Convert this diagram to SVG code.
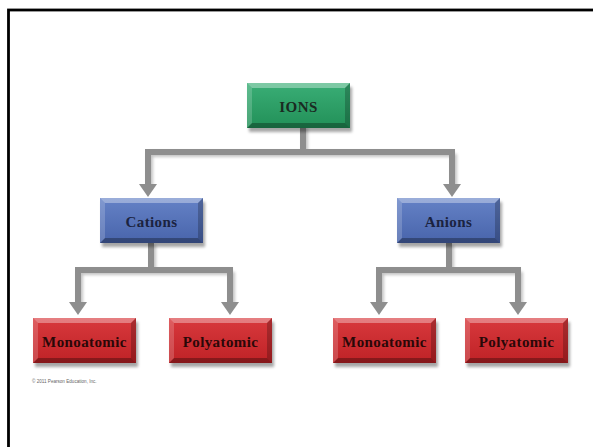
<svg xmlns="http://www.w3.org/2000/svg" xmlns:xlink="http://www.w3.org/1999/xlink" width="593" height="447" viewBox="0 0 593 447">
  <style>
    .lbl { font-family: "Liberation Serif", "DejaVu Serif", serif; font-weight: bold; font-size: 15px; letter-spacing: 0.4px; text-anchor: middle; }
    .shadow { fill: #000; opacity: 0.35; filter: url(#blur); }
    .green { fill: url(#gGreen); }
    .blue { fill: url(#gBlue); }
    .red { fill: url(#gRed); }
    .conn { fill: none; stroke: #8e8e8e; stroke-width: 6; stroke-linejoin: miter; }
    .connShadow { fill: none; stroke: #555; stroke-width: 6; opacity: 0.35; filter: url(#blur); }
  </style>
  <defs>
    <filter id="blur" x="-20%" y="-20%" width="140%" height="140%">
      <feGaussianBlur stdDeviation="1.6"/>
    </filter>
    <linearGradient id="gGreen" x1="0" y1="0" x2="0" y2="1">
      <stop offset="0" stop-color="#3aae76"/>
      <stop offset="1" stop-color="#229058"/>
    </linearGradient>
    <linearGradient id="gBlue" x1="0" y1="0" x2="0" y2="1">
      <stop offset="0" stop-color="#6582c6"/>
      <stop offset="1" stop-color="#4864ab"/>
    </linearGradient>
    <linearGradient id="gRed" x1="0" y1="0" x2="0" y2="1">
      <stop offset="0" stop-color="#d8393d"/>
      <stop offset="1" stop-color="#bf2226"/>
    </linearGradient>
    <marker id="arrow" markerUnits="userSpaceOnUse" markerWidth="14" markerHeight="18" refX="0" refY="9" orient="auto" viewBox="0 0 14 18">
      <path d="M0,0 L13,9 L0,18 Z" fill="#8e8e8e"/>
    </marker>
    <g id="bevel">
      <polygon points="0,0 103,0 98,5 5,5" fill="#fff" opacity="0.35"/>
      <polygon points="0,45 103,45 98,40 5,40" fill="#000" opacity="0.3"/>
      <polygon points="0,0 5,5 5,40 0,45" fill="#fff" opacity="0.18"/>
      <polygon points="103,0 98,5 98,40 103,45" fill="#000" opacity="0.22"/>
    </g>
  </defs>

  <rect width="593" height="447" fill="#fff"/>
  <rect x="8.5" y="10" width="600" height="460" fill="none" stroke="#000" stroke-width="2.8"/>

  <g id="connectors">
    <path class="connShadow" d="M305,128 V154 M150,154 H454 M150,154 V187 M454,154 V187"/>
    <path class="connShadow" d="M153,245 V272 M80,272 H232 M80,272 V305 M232,272 V305"/>
    <path class="connShadow" d="M451,245 V272 M381,272 H520 M381,272 V305 M520,272 V305"/>
    <path class="conn" d="M303,126 V152 M145,152 H455"/>
    <path class="conn" d="M148,150 V184" marker-end="url(#arrow)"/>
    <path class="conn" d="M452,150 V184" marker-end="url(#arrow)"/>
    <path class="conn" d="M151,243 V270 M75,270 H233"/>
    <path class="conn" d="M78,268 V302" marker-end="url(#arrow)"/>
    <path class="conn" d="M230,268 V302" marker-end="url(#arrow)"/>
    <path class="conn" d="M449,243 V270 M376,270 H521"/>
    <path class="conn" d="M379,268 V302" marker-end="url(#arrow)"/>
    <path class="conn" d="M518,268 V302" marker-end="url(#arrow)"/>
  </g>

  <g id="n-ions" transform="translate(247,83)">
    <rect class="shadow" x="2" y="4" width="103" height="45"/>
    <rect class="green" width="103" height="45"/>
    <use xlink:href="#bevel"/>
    <text class="lbl" x="51.5" y="28.5" fill="#1a2a22">IONS</text>
  </g>

  <g id="n-cations" transform="translate(100,198)">
    <rect class="shadow" x="2" y="4" width="103" height="45"/>
    <rect class="blue" width="103" height="45"/>
    <use xlink:href="#bevel"/>
    <text class="lbl" x="51.5" y="28.5" fill="#1b2340">Cations</text>
  </g>

  <g id="n-anions" transform="translate(397,198)">
    <rect class="shadow" x="2" y="4" width="103" height="45"/>
    <rect class="blue" width="103" height="45"/>
    <use xlink:href="#bevel"/>
    <text class="lbl" x="51.5" y="28.5" fill="#1b2340">Anions</text>
  </g>

  <g id="n-cat-mono" transform="translate(33,318)">
    <rect class="shadow" x="2" y="4" width="103" height="45"/>
    <rect class="red" width="103" height="45"/>
    <use xlink:href="#bevel"/>
    <text class="lbl" x="51.5" y="28.5" fill="#2a0808">Monoatomic</text>
  </g>

  <g id="n-cat-poly" transform="translate(169,318)">
    <rect class="shadow" x="2" y="4" width="103" height="45"/>
    <rect class="red" width="103" height="45"/>
    <use xlink:href="#bevel"/>
    <text class="lbl" x="51.5" y="28.5" fill="#2a0808">Polyatomic</text>
  </g>

  <g id="n-an-mono" transform="translate(333,318)">
    <rect class="shadow" x="2" y="4" width="103" height="45"/>
    <rect class="red" width="103" height="45"/>
    <use xlink:href="#bevel"/>
    <text class="lbl" x="51.5" y="28.5" fill="#2a0808">Monoatomic</text>
  </g>

  <g id="n-an-poly" transform="translate(465,318)">
    <rect class="shadow" x="2" y="4" width="103" height="45"/>
    <rect class="red" width="103" height="45"/>
    <use xlink:href="#bevel"/>
    <text class="lbl" x="51.5" y="28.5" fill="#2a0808">Polyatomic</text>
  </g>

  <text x="32" y="383" font-family="Liberation Sans, Arial, sans-serif" font-size="4.6" fill="#666">© 2011 Pearson Education, Inc.</text>
</svg>
